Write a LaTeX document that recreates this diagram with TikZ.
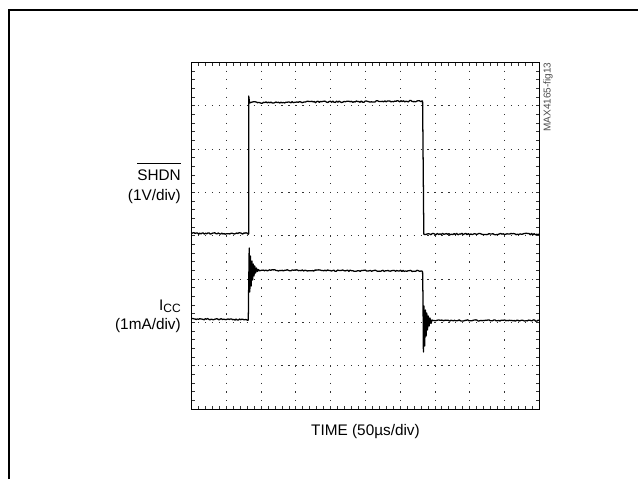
\documentclass[tikz,border=0pt]{standalone}
\usepackage{fontspec}
\setmainfont{Liberation Sans}
\newcommand{\barred}[1]{\leavevmode\vbox{\hrule height 0.8pt\kern 4pt\hbox{#1}}}
\begin{document}
\begin{tikzpicture}[x=0.75pt,y=-0.75pt,
  grid/.style={black!80,line width=0.75pt},
  trace/.style={black,line width=0.95pt,line join=round},
  lbl/.style={font=\fontsize{11.5}{14}\selectfont,inner sep=0pt}]
\useasboundingbox (0,0) rectangle (638,479);
\pgfmathsetseed{4165}
\draw [line width=1.4pt] (9,479)--(9,10)--(638,10);

\foreach \i in {1,...,9}
  \draw [grid,dash pattern=on 0.9pt off 5.6025pt,dash phase=0.45pt] ({191.7+\i*34.76},62.5)--({191.7+\i*34.76},409.3);
\foreach \j in {1,...,7}
  \draw [grid,dash pattern=on 0.9pt off 4.314pt,dash phase=0.45pt] (191.7,{62.5+\j*43.35})--(539.3,{62.5+\j*43.35});
\foreach \i in {1,...,49}
  \draw [grid] ({191.7+\i*6.952},62.5)--++(0,3) ({191.7+\i*6.952},409.3)--++(0,-3);
\foreach \j in {1,...,39}
  \draw [grid] (191.7,{62.5+\j*8.67})--++(3,0) (539.3,{62.5+\j*8.67})--++(-3,0);
\draw [line width=1pt] (191.7,62.5) rectangle (539.3,409.3);

\draw [trace] plot[domain=191.7:248.3,samples=50] (\x,{233.5+0.8*rand}) -- (248.7,233.5) -- (248.7,96) -- (249.6,103)
  -- plot[domain=250:422,samples=140] (\x,{102.5-0.008*(\x-250)+0.8*rand}) -- (422.6,101) -- (423.8,234)
  -- plot[domain=424.5:539.3,samples=90] (\x,{234+0.8*rand});
\draw [trace] plot[domain=191.7:247.5,samples=50] (\x,{319+0.012*(\x-191.7)+0.7*rand}) -- (248.3,320) -- (248.6,292)
  -- (249.2,248) -- (249.8,292) -- (250.5,256) -- (251.2,286) -- (251.9,261) -- (252.6,280) -- (253.3,264) -- (254,276)
  -- (254.8,266) -- (255.6,273) -- (256.5,268) -- (257.5,271.5) -- (258.5,269.5)
  -- plot[domain=259.5:422,samples=130] (\x,{270.3+0.004*(\x-259.5)+0.7*rand}) -- (422.6,272) -- (423,300)
  -- (423.4,352) -- (424,306) -- (424.7,346) -- (425.4,310) -- (426.1,336) -- (426.8,313) -- (427.5,330)
  -- (428.3,316) -- (429.1,326) -- (430,318) -- (431,323.5) -- (432,320)
  -- plot[domain=433:539.3,samples=90] (\x,{320.5+0.7*rand});

\node [lbl,anchor=base east] (shdn) at (181,180) {\barred{SHDN}};
\node [lbl,anchor=base east] (shdnunit) at (181,200) {(1V/div)};
\node [lbl,anchor=base east] (icc) at (181,310) {I\raisebox{-0.25ex}{\fontsize{9}{10}\selectfont CC}};
\node [lbl,anchor=base east] (iccunit) at (181,329) {(1mA/div)};
\node [lbl,anchor=base] (time) at (365.5,435) {TIME (50µs/div)};
\node [font=\fontsize{7.5}{8}\selectfont,text=black!70,rotate=90,inner sep=0pt] (fig) at (548,97) {MAX4165-fig13};
\end{tikzpicture}
\end{document}
